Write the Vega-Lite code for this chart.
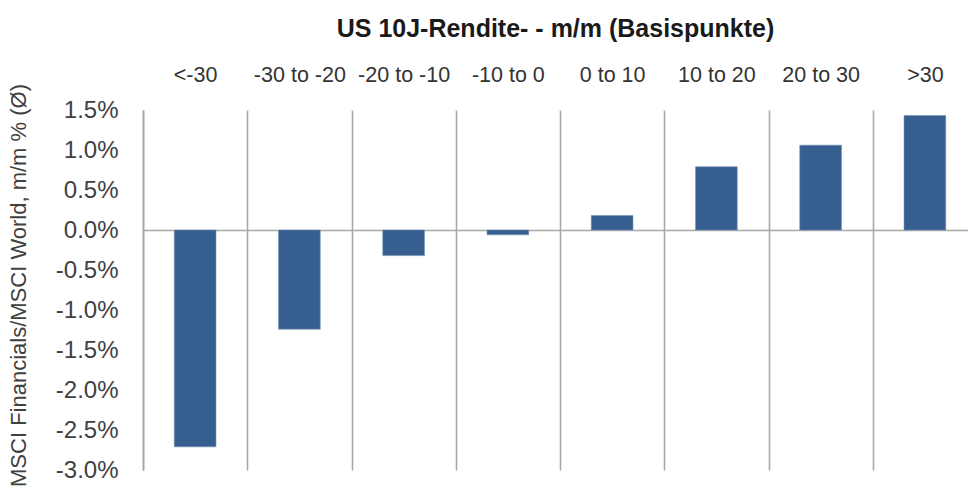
{
  "$schema": "https://vega.github.io/schema/vega-lite/v6.json",
  "autosize": "none",
  "width": 825,
  "height": 360,
  "padding": {"left": 143, "top": 110, "right": 0, "bottom": 16},
  "background": "white",
  "title": {
    "text": "US 10J-Rendite- - m/m (Basispunkte)",
    "font": "Liberation Sans",
    "fontSize": 25,
    "fontWeight": "bold",
    "color": "#1a1a1a",
    "anchor": "middle",
    "offset": 22
  },
  "config": {
    "view": {"stroke": null},
    "font": "Liberation Sans",
    "axis": {"labelOverlap": false},
    "locale": {
      "number": {"decimal": ".", "thousands": ",", "grouping": [3], "currency": ["$", ""], "minus": "-"}
    }
  },
  "data": {
    "values": [
      {"bucket": "<-30", "value": -0.0271},
      {"bucket": "-30 to -20", "value": -0.0124},
      {"bucket": "-20 to -10", "value": -0.0032},
      {"bucket": "-10 to 0", "value": -0.0006},
      {"bucket": "0 to 10", "value": 0.0018},
      {"bucket": "10 to 20", "value": 0.0079},
      {"bucket": "20 to 30", "value": 0.0106},
      {"bucket": ">30", "value": 0.0143}
    ]
  },
  "mark": {"type": "bar", "color": "#365f8f", "width": {"band": 0.4}, "stroke": "#6f8db3", "strokeWidth": 0.6},
  "encoding": {
    "x": {
      "field": "bucket",
      "type": "nominal",
      "sort": null,
      "scale": {"type": "band", "paddingInner": 0, "paddingOuter": 0, "range": [0, 834]},
      "axis": {
        "orient": "top",
        "title": null,
        "domain": false,
        "ticks": false,
        "tickSize": 0,
        "tickBand": "extent",
        "grid": true,
        "gridColor": "#a8a8a8",
        "gridWidth": 1.6,
        "labelAngle": 0,
        "labelOverlap": false,
        "labelFont": "Liberation Sans",
        "labelFontSize": 21.5,
        "labelColor": "#333333",
        "labelPadding": 24
      }
    },
    "y": {
      "field": "value",
      "type": "quantitative",
      "scale": {"domain": [-0.03, 0.015], "nice": false},
      "axis": {
        "title": "MSCI Financials/MSCI World, m/m % (Ø)",
        "titleFont": "Liberation Sans",
        "titleFontSize": 22,
        "titleFontWeight": "normal",
        "titleColor": "#404040",
        "titleAngle": -90,
        "titleAlign": "center",
        "titleBaseline": "alphabetic",
        "titleX": -118,
        "titleY": 175,
        "values": [-0.03, -0.025, -0.02, -0.015, -0.01, -0.005, 0, 0.005, 0.01, 0.015],
        "format": ".1%",
        "labelOverlap": false,
        "grid": true,
        "gridColor": "#a8a8a8",
        "gridWidth": 1.6,
        "gridOpacity": {"condition": {"test": "datum.value === 0", "value": 1}, "value": 0},
        "ticks": false,
        "tickSize": 0,
        "domainColor": "#a8a8a8",
        "domainWidth": 1.6,
        "labelFont": "Liberation Sans",
        "labelFontSize": 24,
        "labelColor": "#404040",
        "labelPadding": 25
      }
    }
  }
}
